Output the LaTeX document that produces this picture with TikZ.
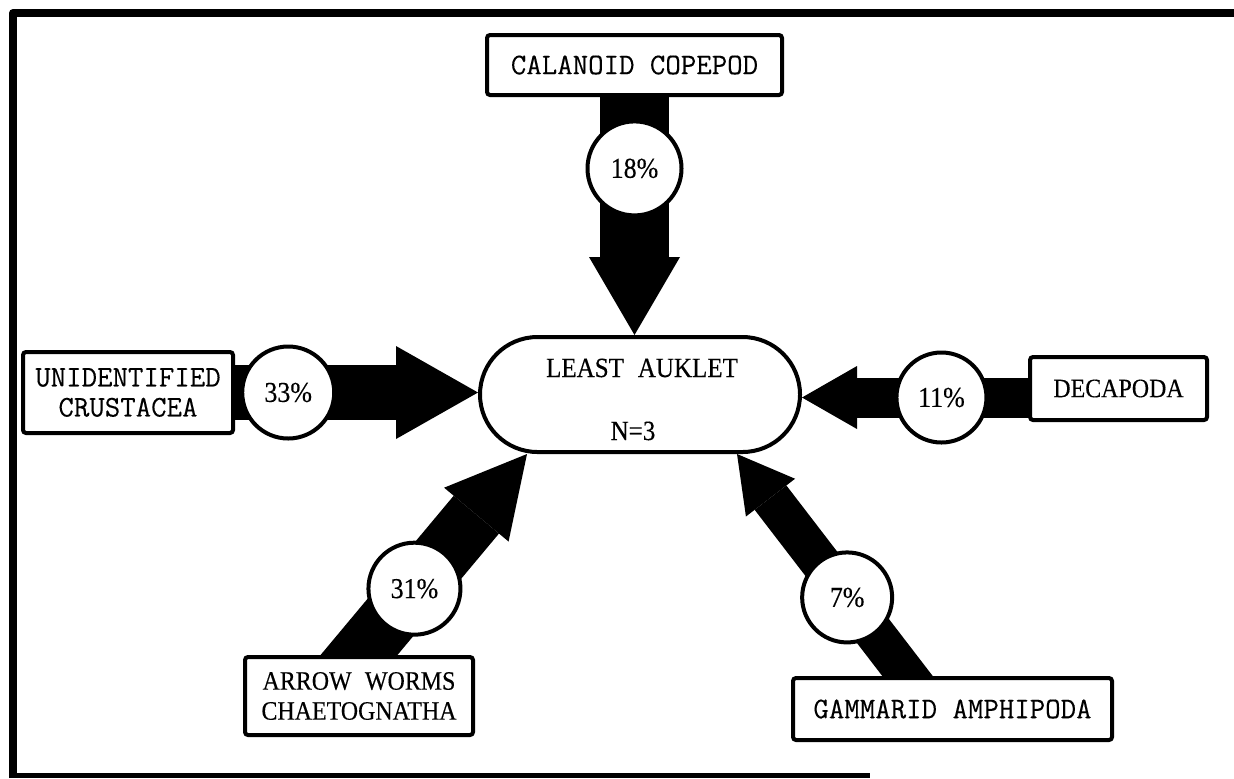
\documentclass[tikz,border=0pt]{standalone}
\usepackage{fontspec}
\setmainfont{Liberation Serif}[FakeStretch=0.9,FakeBold=0.3]
\newfontfamily\typewriter[FakeBold=0.25]{Latin Modern Mono}
\usetikzlibrary{arrows.meta,calc,shapes.misc}
\pgfdeclarelayer{bg}
\pgfsetlayers{bg,main}
\begin{document}
\begin{tikzpicture}[x=0.5pt,y=-0.5pt,
  labelbox/.style={draw,line width=2pt,fill=white,rounded corners=1.5pt,inner sep=0pt,align=center},
  twtext/.style={font=\typewriter\fontsize{15}{15}\selectfont},
  rmtext/.style={font=\fontsize{13.3}{15}\selectfont},
  share/.style={circle,draw,line width=2pt,fill=white,inner sep=0pt,minimum size=#1,font=\fontsize{14.4}{15}\selectfont},
  flow/.style n args={3}{line width=#1,-{Triangle[width=#2,length=#3,line width=0pt]}}
]
\useasboundingbox (0,0) rectangle (1234,778);

% frame: heavy top and left rules, lighter bottom rule
\draw[line width=4pt,line join=round] (13,778) -- (13,13) -- (1234,13);
\draw[line width=2.5pt] (9,775) -- (870,775);

% predator
\node[rounded rectangle,draw,line width=2pt,fill=white,minimum width=160pt,
      minimum height=57.5pt,inner sep=0pt] (la) at (640,394.5) {};
\node[anchor=base,font=\fontsize{13.9}{15}\selectfont] (latitle) at (642,377) {LEAST\enspace AUKLET};
\node[anchor=base,font=\fontsize{13.9}{15}\selectfont] (lan) at (633,440) {N=3};

% prey boxes
\node[labelbox,twtext,minimum width=147.5pt,minimum height=30pt] (cc) at (634.5,65) {CALANOID COPEPOD};
\node[labelbox,twtext,minimum width=105pt,minimum height=40.5pt] (uc) at (128,392.5) {UNIDENTIFIED\\CRUSTACEA};
\node[labelbox,rmtext,minimum width=88.5pt,minimum height=31.5pt] (dec) at (1118.5,388.5) {DECAPODA};
\node[labelbox,rmtext,minimum width=114pt,minimum height=39pt] (aw) at (359,696) {ARROW\enspace WORMS\\CHAETOGNATHA};
\node[labelbox,twtext,minimum width=159.5pt,minimum height=31pt] (ga) at (952.5,709) {GAMMARID AMPHIPODA};

% arrow ends
\coordinate (tipT) at (cc.south |- la.north);
\coordinate (tipL) at (uc.east -| la.west);
\coordinate (decout) at ($(dec.west)+(0,9)$);
\coordinate (tipR) at (decout -| la.east);
\coordinate (tipBL) at ($(la.south)+(-113,0)$);
\coordinate (gaout) at ($(ga.north)+(-45,0)$);
\coordinate (tipBR) at ($(la.south)+(97,0)$);
\coordinate (awin) at ($(aw.north)!-14pt!(tipBL)$);
\coordinate (gain) at ($(gaout)!-12pt!(tipBR)$);

% percentage discs
\node[share=47pt] (p18) at ($(cc.south)!0.3!(tipT)$) {18\%};
\node[share=46pt] (p33) at ($(uc.east)!0.219!(tipL)$) {33\%};
\node[share=45pt] (p11) at ($(decout)!0.383!(tipR)$) {11\%};
\node[share=46pt] (p31) at ($(aw.north)!0.33!(tipBL)$) {31\%};
\node[share=45pt] (p7) at ($(gaout)!0.354!(tipBR)$) {7\%};

% flow arrows behind boxes and discs
\begin{pgfonlayer}{bg}
\draw[flow={34.5pt}{45.5pt}{39pt}] (cc.south) -- (tipT);
\draw[flow={27.5pt}{46.5pt}{41pt}] (uc.east) -- (tipL);
\draw[flow={20pt}{31.5pt}{27.5pt}] (decout) -- (tipR);
\draw[flow={29.5pt}{42pt}{39.5pt}] (awin) -- (tipBL);
\draw[flow={20pt}{31pt}{27.5pt}] (gain) -- (tipBR);
\end{pgfonlayer}
\end{tikzpicture}
\end{document}
